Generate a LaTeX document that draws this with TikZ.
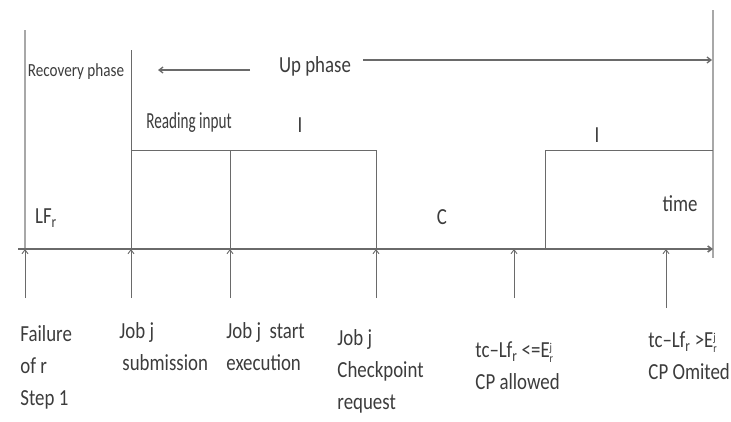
\documentclass[tikz,border=0pt]{standalone}
\usepackage{fontspec}
\setmainfont{Carlito}[FakeStretch=0.82]
\newfontfamily\narrowfont{Carlito}[FakeStretch=0.66]
\usetikzlibrary{arrows.meta}
\definecolor{lncol}{HTML}{6A6A6A}
\definecolor{lightln}{HTML}{A8A8A8}
\definecolor{txtcol}{HTML}{3C3C3C}
\newcommand{\evtick}[3]{%
  
  \coordinate (#1) at (#2,249);
  \draw [->,lncol] (#2,#3)--(#1);
}
\newcommand{\ejr}{E\rlap{\raisebox{0.55ex}{\fontsize{12}{12}\selectfont j}}\raisebox{-0.45ex}{\fontsize{12}{12}\selectfont r}}

\begin{document}
\begin{tikzpicture}[x=1pt,y=-1pt,>={Straight Barb[length=4pt,width=6pt]},
    line width=0.9pt,
    every node/.style={text=txtcol,inner sep=0pt},
    big/.style={font=\fontsize{23}{26}\selectfont},
    lbl/.style={anchor=west,align=left,font=\fontsize{23}{32}\selectfont}]
    \useasboundingbox (0,0) rectangle (731,421);
    % phase borders
    \draw [lightln,line width=2.2pt] (25,30)--(25,249);
    \draw [lightln,line width=2.2pt] (713,10)--(713,258);
    \draw [lncol] (131,50)--(131,249);
    % time axis
    \coordinate (t0) at (18,249);
    \coordinate (t1) at (713,249);
    \draw [->,lncol,line width=1.6pt] (t0)--(t1);
    % up phase
    \node [big] (up) at (315,66) {Up phase};
    \coordinate (upl) at (158,70);
    \coordinate (upr) at (712,60);
    \draw [->,lncol,line width=1.3pt] (250,70)--(upl);
    \draw [->,lncol,line width=1.3pt] (363,60)--(upr);
    \node (rec) at (76,72) {\fontsize{18.5}{20}\selectfont Recovery phase};
    \node (read) at (189,122) {\narrowfont\fontsize{23}{24}\selectfont Reading input};
    % job intervals
    \draw [lncol] (131,150)--(376,150)--(376,249);
    \draw [lncol] (230,150)--(230,249);
    \draw [lncol] (545,249)--(545,150)--(713,150);
    \node [big] (i1) at (300,125) {I};
    \node [big] (i2) at (597,135) {I};
    \node [big] (lf) at (46,218) {LF\textsubscript{r}};
    \node [big] (c) at (442,217) {C};
    \node [big] (time) at (680,204) {time};
    % events
    \evtick{fail}{25}{298}
    \evtick{sub}{131}{298}
    \evtick{exe}{230}{298}
    \evtick{chk}{376}{298}
    \evtick{allow}{514}{298}
    \evtick{omit}{666}{308}
    \node [lbl] (failtxt) at (20,367) {Failure\\of r\\Step 1};
    \node [lbl] (subtxt) at (119,347) {Job j\\\hspace{3pt}submission};
    \node [lbl] (exetxt) at (226,347) {Job j\ \ start\\execution};
    \node [lbl] (chktxt) at (337,371) {Job j\\Checkpoint\\request};
    \node [lbl] (allowtxt) at (475,366) {tc–Lf\textsubscript{r} <=\ejr\\CP allowed};
    \node [lbl] (omittxt) at (648,356) {tc–Lf\textsubscript{r} >\ejr\\CP Omited};
\end{tikzpicture}
\end{document}
